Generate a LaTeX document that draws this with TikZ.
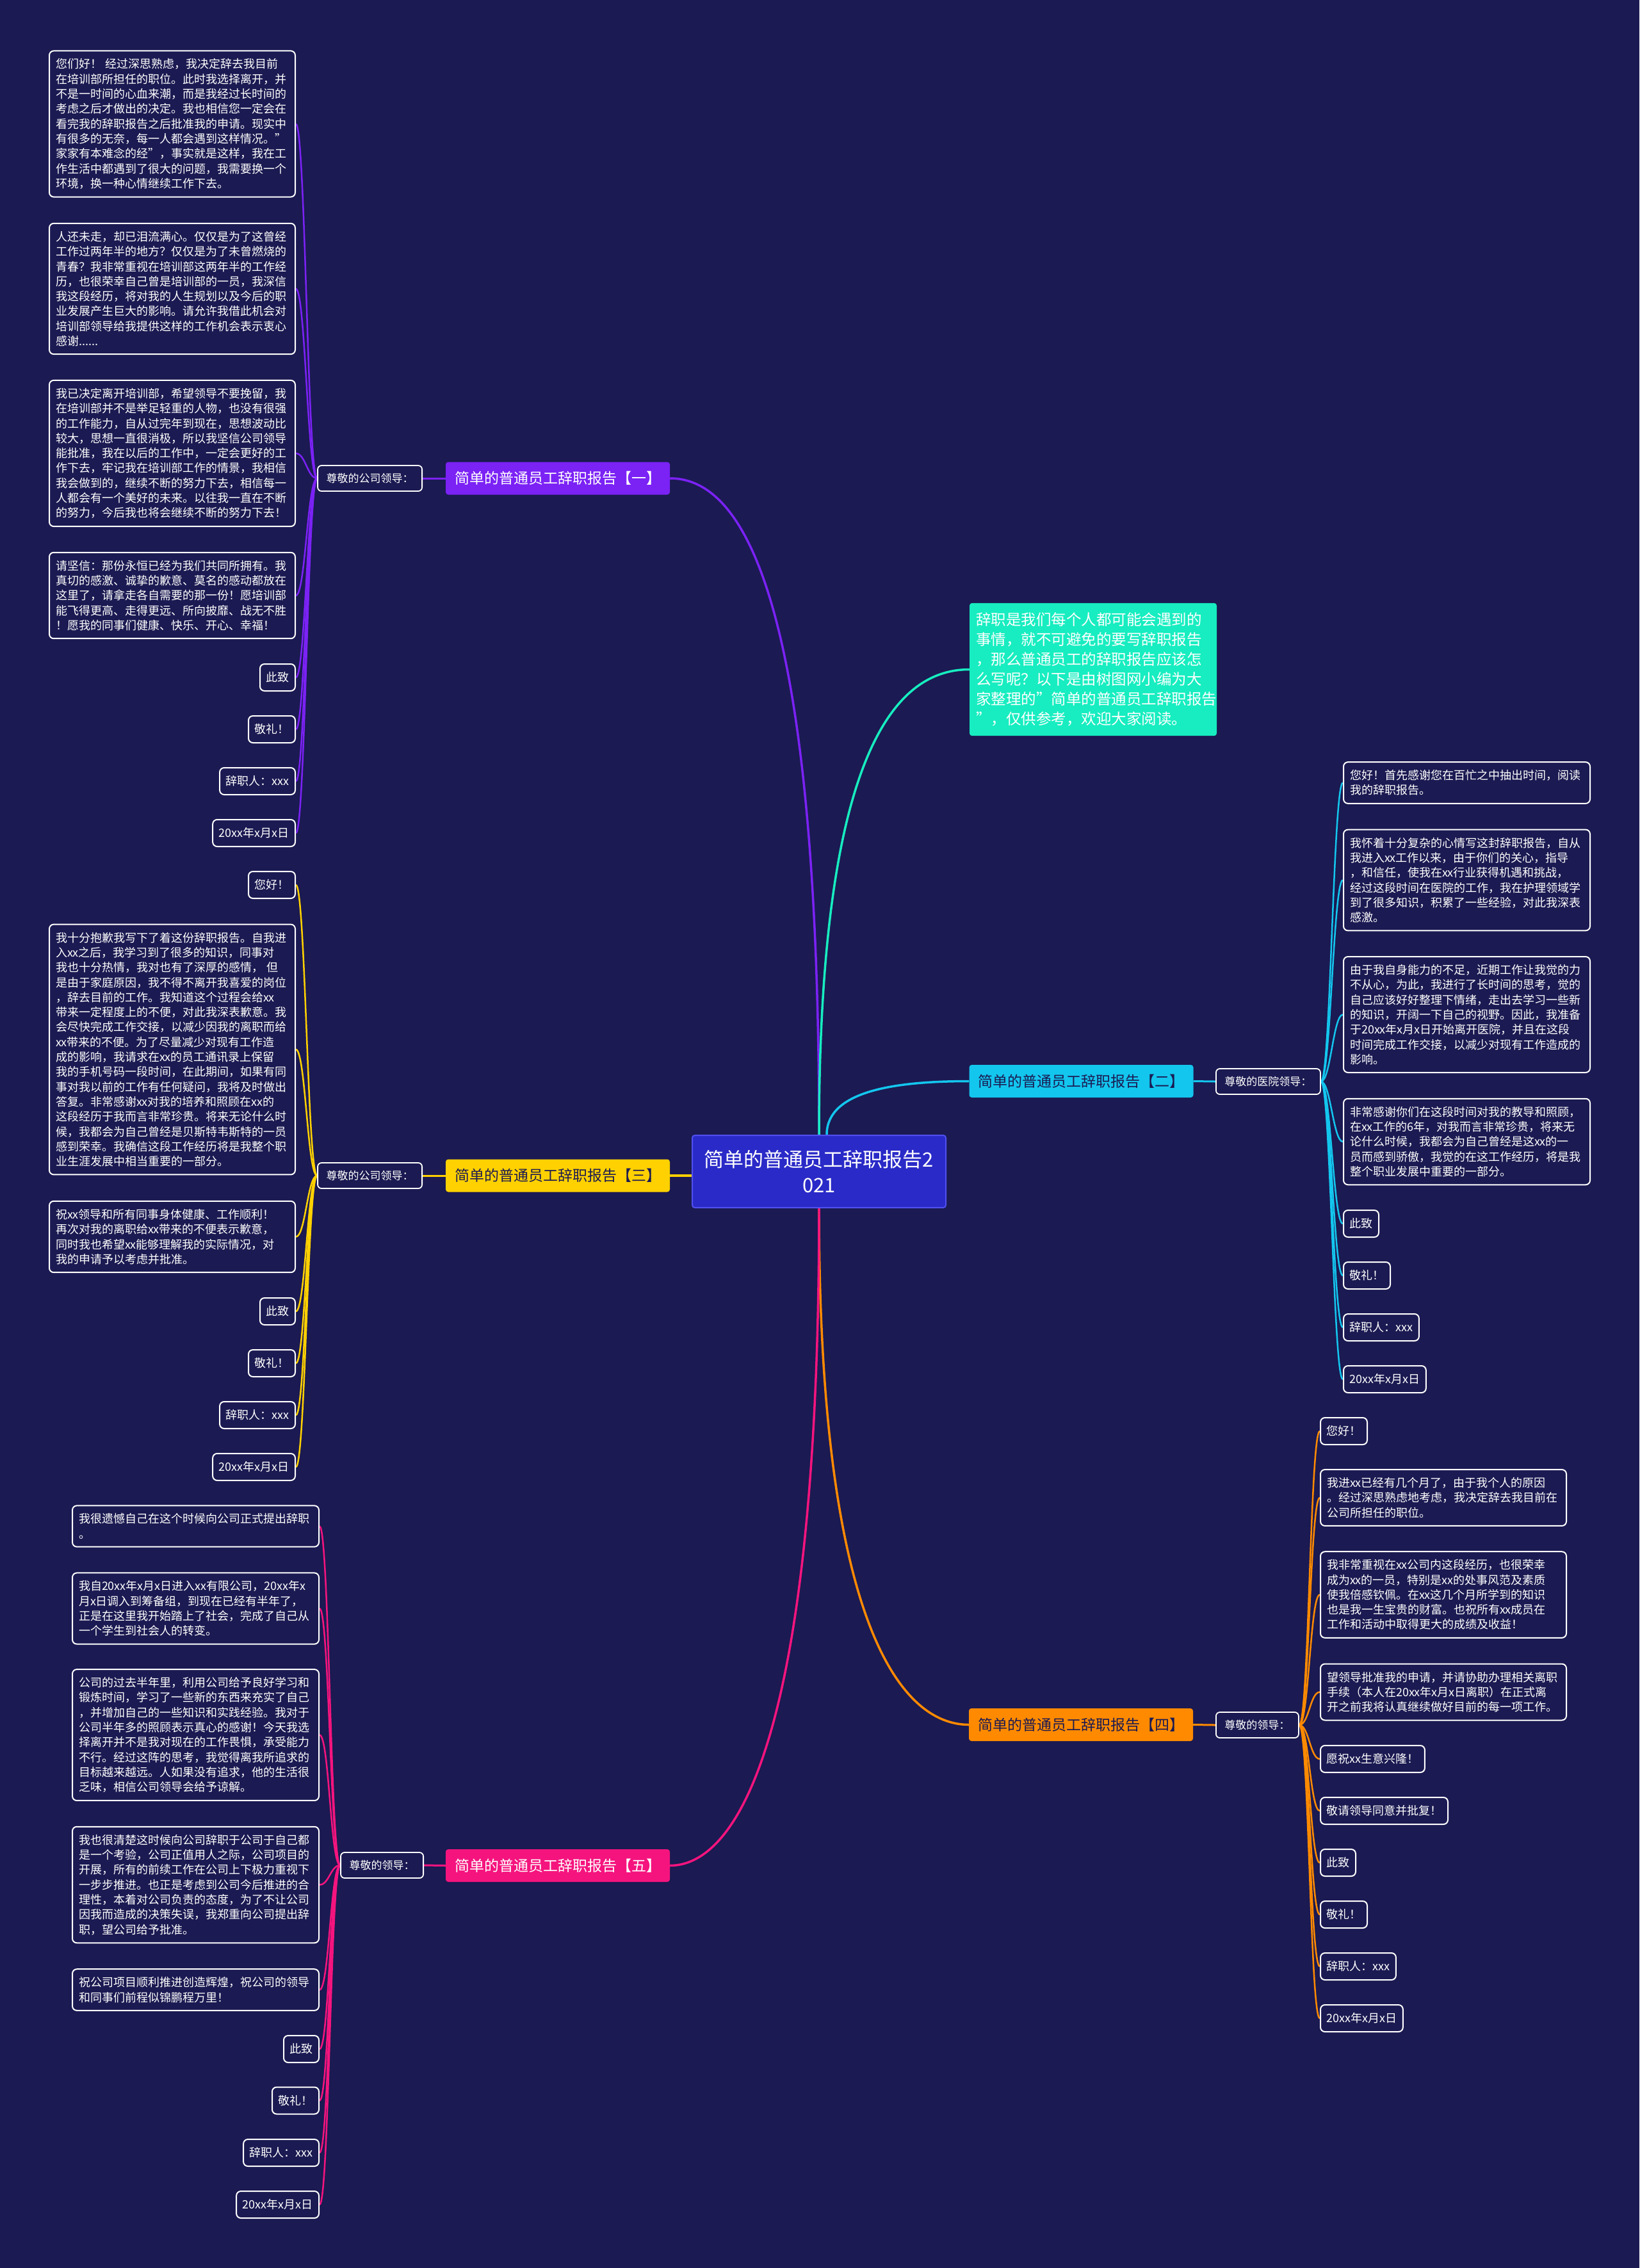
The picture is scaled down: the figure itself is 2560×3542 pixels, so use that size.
\documentclass[tikz,border=0pt]{standalone}
\usepackage{fontspec}
\setmainfont{Noto Sans CJK SC}
\usetikzlibrary{calc}
\definecolor{bgc}{HTML}{1B1A52}
\definecolor{cpurple}{HTML}{7B22F5}
\definecolor{cteal}{HTML}{17EDC0}
\definecolor{ccyan}{HTML}{13C6EE}
\definecolor{cyellow}{HTML}{FFD100}
\definecolor{corange}{HTML}{FF8A00}
\definecolor{cpink}{HTML}{F5147E}
\definecolor{ccenter}{HTML}{2A2AC8}
\definecolor{ccenterb}{HTML}{5050F0}
\definecolor{cdark}{HTML}{1B1A52}
\pgfdeclarelayer{back}
\pgfdeclarelayer{edges}
\pgfsetlayers{back,edges,main}
\begin{document}
\begin{tikzpicture}[x=1pt,y=-1pt,
  leafbox/.style={draw=white, line width=2pt, fill=bgc, rounded corners=7pt, text=white,
    font=\fontsize{18}{23.3}\selectfont, inner xsep=10pt, inner ysep=12.3pt, align=left, text width=364pt},
  smallleaf/.style={draw=white, line width=2pt, fill=bgc, rounded corners=7pt, text=white,
    font=\fontsize{18}{23.3}\selectfont, inner xsep=9.5pt, inner ysep=0pt, minimum height=42pt},
  labelbox/.style={draw=white, line width=1.8pt, fill=bgc, rounded corners=6pt, text=white,
    font=\fontsize{17}{20}\selectfont, inner xsep=13.5pt, inner ysep=0pt, minimum height=40pt},
  branchbox/.style={rounded corners=4pt, minimum width=350pt, minimum height=51pt,
    font=\fontsize{23}{28}\selectfont, inner sep=0pt},
  mainline/.style={line width=3.5pt},
  midline/.style={line width=3pt},
  leafline/.style={line width=2.5pt}
]
\begin{pgfonlayer}{back}
\fill[bgc] (0,0) rectangle (2560,3542);
\end{pgfonlayer}
\useasboundingbox (0,0) rectangle (2560,3542);

% center and main branches
\node[draw=ccenterb, line width=2pt, fill=ccenter, rounded corners=4pt, text=white,
  minimum width=396pt, minimum height=113pt, align=center,
  font=\fontsize{31}{40}\selectfont, inner sep=0pt] (c) at (1279,1829.5) {简单的普通员工辞职报告2\\021};

\node[fill=cteal, rounded corners=4pt, text=white, align=left, text width=366pt,
  inner xsep=10pt, inner ysep=15pt, font=\fontsize{23.5}{31}\selectfont] (intro) at (1707,1045.5)
  {辞职是我们每个人都可能会遇到的\\事情，就不可避免的要写辞职报告\\，那么普通员工的辞职报告应该怎\\么写呢？以下是由树图网小编为大\\家整理的"简单的普通员工辞职报告\\"，仅供参考，欢迎大家阅读。};

\node[branchbox, fill=cpurple, text=white] (b1) at (871,747) {简单的普通员工辞职报告【一】};
\node[branchbox, fill=ccyan, text=cdark] (b2) at (1688.5,1688.5) {简单的普通员工辞职报告【二】};
\node[branchbox, fill=cyellow, text=cdark] (b3) at (871,1836) {简单的普通员工辞职报告【三】};
\node[branchbox, fill=corange, text=cdark] (b4) at (1688,2693.5) {简单的普通员工辞职报告【四】};
\node[branchbox, fill=cpink, text=white] (b5) at (871,2913.5) {简单的普通员工辞职报告【五】};

\node[labelbox, anchor=east] (lab1) at (660,747) {尊敬的公司领导：};
\node[labelbox, anchor=west] (lab2) at (1898,1689) {尊敬的医院领导：};
\node[labelbox, anchor=east] (lab3) at (660,1836) {尊敬的公司领导：};
\node[labelbox, anchor=west] (lab4) at (1898,2694) {尊敬的领导：};
\node[labelbox, anchor=east] (lab5) at (662,2913) {尊敬的领导：};

% branch 1 leaves
\node[leafbox, anchor=east] (l1a) at (462,193.5) {您们好！ 经过深思熟虑，我决定辞去我目前\\在培训部所担任的职位。此时我选择离开，并\\不是一时间的心血来潮，而是我经过长时间的\\考虑之后才做出的决定。我也相信您一定会在\\看完我的辞职报告之后批准我的申请。现实中\\有很多的无奈，每一人都会遇到这样情况。"\\家家有本难念的经"，事实就是这样，我在工\\作生活中都遇到了很大的问题，我需要换一个\\环境，换一种心情继续工作下去。};
\node[leafbox, anchor=east] (l1b) at (462,451) {人还未走，却已泪流满心。仅仅是为了这曾经\\工作过两年半的地方？仅仅是为了未曾燃烧的\\青春？我非常重视在培训部这两年半的工作经\\历，也很荣幸自己曾是培训部的一员，我深信\\我这段经历，将对我的人生规划以及今后的职\\业发展产生巨大的影响。请允许我借此机会对\\培训部领导给我提供这样的工作机会表示衷心\\感谢......};
\node[leafbox, anchor=east] (l1c) at (462,708) {我已决定离开培训部，希望领导不要挽留，我\\在培训部并不是举足轻重的人物，也没有很强\\的工作能力，自从过完年到现在，思想波动比\\较大，思想一直很消极，所以我坚信公司领导\\能批准，我在以后的工作中，一定会更好的工\\作下去，牢记我在培训部工作的情景，我相信\\我会做到的，继续不断的努力下去，相信每一\\人都会有一个美好的未来。以往我一直在不断\\的努力，今后我也将会继续不断的努力下去！};
\node[leafbox, anchor=east] (l1d) at (462,930) {请坚信：那份永恒已经为我们共同所拥有。我\\真切的感激、诚挚的歉意、莫名的感动都放在\\这里了，请拿走各自需要的那一份！愿培训部\\能飞得更高、走得更远、所向披靡、战无不胜\\！愿我的同事们健康、快乐、开心、幸福！};
\node[smallleaf, anchor=east] (l1e) at (462,1058) {此致};
\node[smallleaf, anchor=east] (l1f) at (462,1139) {敬礼！};
\node[smallleaf, anchor=east] (l1g) at (462,1220) {辞职人：xxx};
\node[smallleaf, anchor=east] (l1h) at (462,1301) {20xx年x月x日};

% branch 3 leaves
\node[smallleaf, anchor=east] (l3a) at (462,1382) {您好！};
\node[leafbox, anchor=east] (l3b) at (462,1639) {我十分抱歉我写下了着这份辞职报告。自我进\\入xx之后，我学习到了很多的知识，同事对\\我也十分热情，我对也有了深厚的感情， 但\\是由于家庭原因，我不得不离开我喜爱的岗位\\，辞去目前的工作。我知道这个过程会给xx\\带来一定程度上的不便，对此我深表歉意。我\\会尽快完成工作交接，以减少因我的离职而给\\xx带来的不便。为了尽量减少对现有工作造\\成的影响，我请求在xx的员工通讯录上保留\\我的手机号码一段时间，在此期间，如果有同\\事对我以前的工作有任何疑问，我将及时做出\\答复。非常感谢xx对我的培养和照顾在xx的\\这段经历于我而言非常珍贵。将来无论什么时\\候，我都会为自己曾经是贝斯特韦斯特的一员\\感到荣幸。我确信这段工作经历将是我整个职\\业生涯发展中相当重要的一部分。};
\node[leafbox, anchor=east] (l3c) at (462,1931.5) {祝xx领导和所有同事身体健康、工作顺利！\\再次对我的离职给xx带来的不便表示歉意，\\同时我也希望xx能够理解我的实际情况，对\\我的申请予以考虑并批准。};
\node[smallleaf, anchor=east] (l3d) at (462,2048) {此致};
\node[smallleaf, anchor=east] (l3e) at (462,2129) {敬礼！};
\node[smallleaf, anchor=east] (l3f) at (462,2210) {辞职人：xxx};
\node[smallleaf, anchor=east] (l3g) at (462,2291) {20xx年x月x日};

% branch 5 leaves
\node[leafbox, text width=365pt, anchor=east] (l5a) at (499,2383.5) {我很遗憾自己在这个时候向公司正式提出辞职\\。};
\node[leafbox, text width=365pt, anchor=east] (l5b) at (499,2512) {我自20xx年x月x日进入xx有限公司，20xx年x\\月x日调入到筹备组，到现在已经有半年了，\\正是在这里我开始踏上了社会，完成了自己从\\一个学生到社会人的转变。};
\node[leafbox, text width=365pt, anchor=east] (l5c) at (499,2709.5) {公司的过去半年里，利用公司给予良好学习和\\锻炼时间，学习了一些新的东西来充实了自己\\，并增加自己的一些知识和实践经验。我对于\\公司半年多的照顾表示真心的感谢！今天我选\\择离开并不是我对现在的工作畏惧，承受能力\\不行。经过这阵的思考，我觉得离我所追求的\\目标越来越远。人如果没有追求，他的生活很\\乏味，相信公司领导会给予谅解。};
\node[leafbox, text width=365pt, anchor=east] (l5d) at (499,2943.5) {我也很清楚这时候向公司辞职于公司于自己都\\是一个考验，公司正值用人之际，公司项目的\\开展，所有的前续工作在公司上下极力重视下\\一步步推进。也正是考虑到公司今后推进的合\\理性，本着对公司负责的态度，为了不让公司\\因我而造成的决策失误，我郑重向公司提出辞\\职，望公司给予批准。};
\node[leafbox, text width=365pt, anchor=east] (l5e) at (499,3107.5) {祝公司项目顺利推进创造辉煌，祝公司的领导\\和同事们前程似锦鹏程万里！};
\node[smallleaf, anchor=east] (l5f) at (499,3200) {此致};
\node[smallleaf, anchor=east] (l5g) at (499,3280.5) {敬礼！};
\node[smallleaf, anchor=east] (l5h) at (499,3362) {辞职人：xxx};
\node[smallleaf, anchor=east] (l5i) at (499,3443) {20xx年x月x日};

% branch 2 leaves
\node[leafbox, text width=365pt, anchor=west] (l2a) at (2097,1222.5) {您好！首先感谢您在百忙之中抽出时间，阅读\\我的辞职报告。};
\node[leafbox, text width=365pt, anchor=west] (l2b) at (2097,1374.5) {我怀着十分复杂的心情写这封辞职报告，自从\\我进入xx工作以来，由于你们的关心，指导\\，和信任，使我在xx行业获得机遇和挑战，\\经过这段时间在医院的工作，我在护理领域学\\到了很多知识，积累了一些经验，对此我深表\\感激。};
\node[leafbox, text width=365pt, anchor=west] (l2c) at (2097,1584.5) {由于我自身能力的不足，近期工作让我觉的力\\不从心，为此，我进行了长时间的思考，觉的\\自己应该好好整理下情绪，走出去学习一些新\\的知识，开阔一下自己的视野。因此，我准备\\于20xx年x月x日开始离开医院，并且在这段\\时间完成工作交接，以减少对现有工作造成的\\影响。};
\node[leafbox, text width=365pt, anchor=west] (l2d) at (2097,1783) {非常感谢你们在这段时间对我的教导和照顾，\\在xx工作的6年，对我而言非常珍贵，将来无\\论什么时候，我都会为自己曾经是这xx的一\\员而感到骄傲，我觉的在这工作经历，将是我\\整个职业发展中重要的一部分。};
\node[smallleaf, anchor=west] (l2e) at (2097,1911) {此致};
\node[smallleaf, anchor=west] (l2f) at (2097,1992) {敬礼！};
\node[smallleaf, anchor=west] (l2g) at (2097,2073) {辞职人：xxx};
\node[smallleaf, anchor=west] (l2h) at (2097,2154) {20xx年x月x日};

% branch 4 leaves
\node[smallleaf, anchor=west] (l4a) at (2061,2235) {您好！};
\node[leafbox, anchor=west] (l4b) at (2061,2339) {我进xx已经有几个月了，由于我个人的原因\\。经过深思熟虑地考虑，我决定辞去我目前在\\公司所担任的职位。};
\node[leafbox, anchor=west] (l4c) at (2061,2490.5) {我非常重视在xx公司内这段经历，也很荣幸\\成为xx的一员，特别是xx的处事风范及素质\\使我倍感钦佩。在xx这几个月所学到的知识\\也是我一生宝贵的财富。也祝所有xx成员在\\工作和活动中取得更大的成绩及收益！};
\node[leafbox, anchor=west] (l4d) at (2061,2642.5) {望领导批准我的申请，并请协助办理相关离职\\手续（本人在20xx年x月x日离职）在正式离\\开之前我将认真继续做好目前的每一项工作。};
\node[smallleaf, anchor=west] (l4e) at (2061,2747) {愿祝xx生意兴隆！};
\node[smallleaf, anchor=west] (l4f) at (2061,2828) {敬请领导同意并批复！};
\node[smallleaf, anchor=west] (l4g) at (2061,2909) {此致};
\node[smallleaf, anchor=west] (l4h) at (2061,2990) {敬礼！};
\node[smallleaf, anchor=west] (l4i) at (2061,3071) {辞职人：xxx};
\node[smallleaf, anchor=west] (l4j) at (2061,3152) {20xx年x月x日};

% connectors
\begin{pgfonlayer}{edges}
\draw[mainline, cpurple] (c.north) .. controls ($(c.north)+(0,-873)$) and ($(b1.east)+(104,0)$) .. (b1.east);
\draw[mainline, cteal] (c.north) .. controls ($(c.north)+(0,-623)$) and ($(intro.west)+(-104,0)$) .. (intro.west);
\draw[mainline, ccyan] ($(c.north)+(12,0)$) .. controls ($(c.north)+(12,-70)$) and ($(b2.west)+(-110,0)$) .. (b2.west);
\draw[mainline, cyellow] (b3.east) -- (b3.east -| c.west);
\draw[mainline, corange] (c.south) .. controls ($(c.south)+(0,654)$) and ($(b4.west)+(-104,0)$) .. (b4.west);
\draw[mainline, cpink] (c.south) .. controls ($(c.south)+(0,830)$) and ($(b5.east)+(104,0)$) .. (b5.east);

\draw[midline, cpurple] (b1.west) -- (lab1.east);
\draw[midline, ccyan] (b2.east) -- (lab2.west);
\draw[midline, cyellow] (b3.west) -- (lab3.east);
\draw[midline, corange] (b4.east) -- (lab4.west);
\draw[midline, cpink] (b5.west) -- (lab5.east);

\foreach \n in {l1a,l1b,l1c,l1d,l1e,l1f,l1g,l1h}
  \draw[leafline, cpurple] (lab1.west) .. controls +(-15,0) and +(15,0) .. (\n.east);
\foreach \n in {l3a,l3b,l3c,l3d,l3e,l3f,l3g}
  \draw[leafline, cyellow] (lab3.west) .. controls +(-15,0) and +(15,0) .. (\n.east);
\foreach \n in {l5a,l5b,l5c,l5d,l5e,l5f,l5g,l5h,l5i}
  \draw[leafline, cpink] (lab5.west) .. controls +(-15,0) and +(15,0) .. (\n.east);
\foreach \n in {l2a,l2b,l2c,l2d,l2e,l2f,l2g,l2h}
  \draw[leafline, ccyan] (lab2.east) .. controls +(15,0) and +(-15,0) .. (\n.west);
\foreach \n in {l4a,l4b,l4c,l4d,l4e,l4f,l4g,l4h,l4i,l4j}
  \draw[leafline, corange] (lab4.east) .. controls +(15,0) and +(-15,0) .. (\n.west);
\end{pgfonlayer}
\end{tikzpicture}
\end{document}
